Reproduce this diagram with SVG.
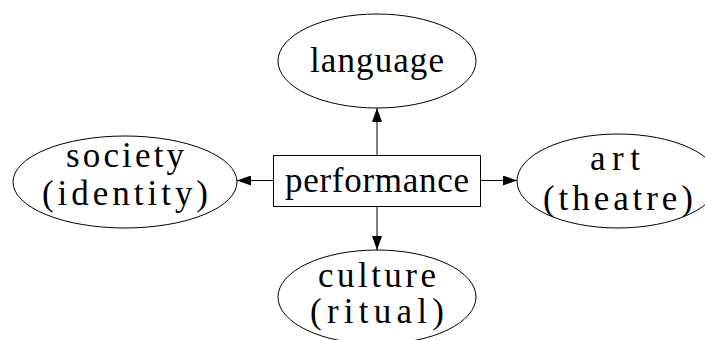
<svg xmlns="http://www.w3.org/2000/svg" width="705" height="340" viewBox="0 0 705 340">
  <defs>
    <marker id="arrow" viewBox="0 0 14 10" refX="14" refY="5" markerWidth="14" markerHeight="10" markerUnits="userSpaceOnUse" orient="auto">
      <path d="M0,0 L14,5 L0,10 Z" fill="#000"/>
    </marker>
  </defs>
  <style>
    .shape { fill: #fff; stroke: #000; stroke-width: 1; }
    .label { font-family: "Liberation Serif", "DejaVu Serif", serif; font-size: 35px; fill: #000; text-anchor: middle; }
    .edge { stroke: #000; stroke-width: 1; fill: none; marker-end: url(#arrow); }
  </style>
  <rect width="705" height="340" fill="#fff"/>

  <!-- connectors from the central box out to each ellipse -->
  <g id="edges">
    <line class="edge" x1="377" y1="155" x2="377" y2="108"/>
    <line class="edge" x1="273" y1="180.5" x2="237" y2="180.5"/>
    <line class="edge" x1="481" y1="180.5" x2="517" y2="180.5"/>
    <line class="edge" x1="377" y1="206" x2="377" y2="250"/>
  </g>

  <g id="language">
    <ellipse class="shape" cx="377" cy="61" rx="99" ry="47"/>
    <text class="label" x="377" y="72" textLength="134" lengthAdjust="spacing">language</text>
  </g>

  <g id="society">
    <ellipse class="shape" cx="125" cy="182" rx="112" ry="46"/>
    <text class="label" x="125" y="167" textLength="118" lengthAdjust="spacing">society</text>
    <text class="label" x="125" y="205" textLength="166" lengthAdjust="spacing">(identity)</text>
  </g>

  <g id="performance">
    <rect class="shape" x="273.5" y="155.5" width="207" height="51"/>
    <text class="label" x="377" y="192" textLength="184" lengthAdjust="spacing">performance</text>
  </g>

  <g id="art">
    <ellipse class="shape" cx="618" cy="181" rx="101" ry="47"/>
    <text class="label" x="615" y="170" textLength="50" lengthAdjust="spacing">art</text>
    <text class="label" x="618" y="210" textLength="150" lengthAdjust="spacing">(theatre)</text>
  </g>

  <g id="culture">
    <ellipse class="shape" cx="377" cy="297" rx="99" ry="47"/>
    <text class="label" x="377" y="287" textLength="118" lengthAdjust="spacing">culture</text>
    <text class="label" x="377" y="323" textLength="134" lengthAdjust="spacing">(ritual)</text>
  </g>
</svg>
